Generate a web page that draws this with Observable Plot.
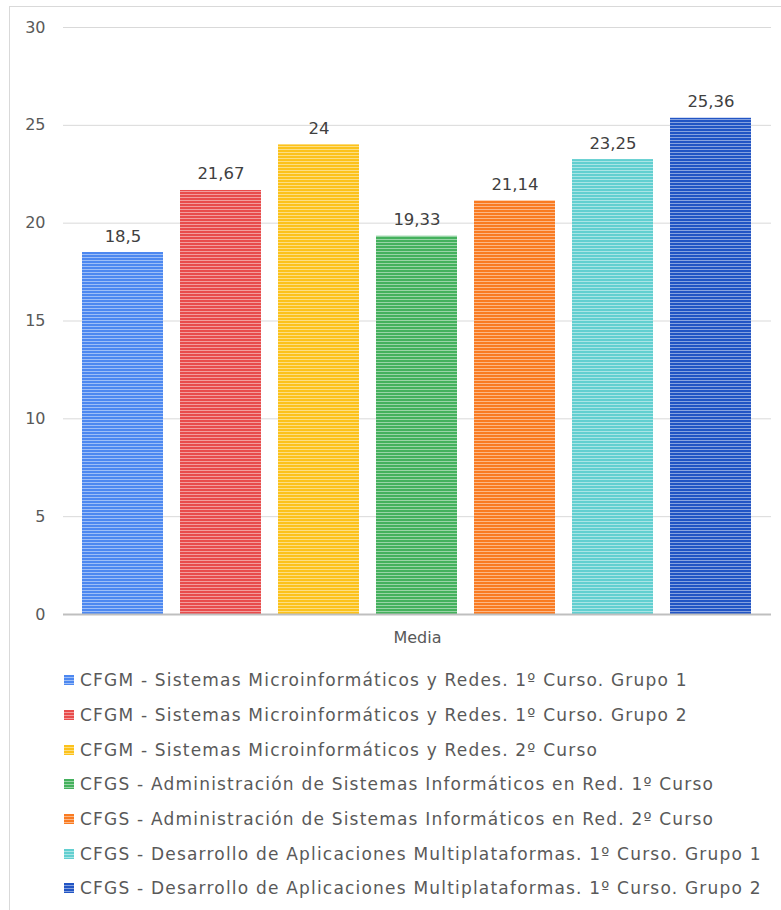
<!DOCTYPE html>
<html><head><meta charset="utf-8">
<script src="https://cdn.jsdelivr.net/npm/d3@7"></script>
<script src="https://cdn.jsdelivr.net/npm/@observablehq/plot@0.6"></script>
<style>
body{margin:0;background:#fff;font-family:"DejaVu Sans",sans-serif;}
#wrap{position:relative;width:781px;height:910px;overflow:hidden;}
#frame{position:absolute;left:9px;top:6px;width:800px;height:940px;border:1px solid #d9d9d9;box-sizing:border-box;}
#chart{position:absolute;left:0;top:0;}
#legend{position:absolute;left:64px;top:663px;}
.item{display:flex;align-items:center;height:34.7px;font-size:17px;letter-spacing:1.2px;color:#595959;white-space:nowrap;}
.sw{width:10px;height:10px;margin-right:6px;flex:none;}
</style></head>
<body><div id="wrap"><div id="frame"></div><div id="chart"></div><div id="legend"></div></div>
<script>
const series = [
  "CFGM - Sistemas Microinformáticos y Redes. 1º Curso. Grupo 1",
  "CFGM - Sistemas Microinformáticos y Redes. 1º Curso. Grupo 2",
  "CFGM - Sistemas Microinformáticos y Redes. 2º Curso",
  "CFGS - Administración de Sistemas Informáticos en Red. 1º Curso",
  "CFGS - Administración de Sistemas Informáticos en Red. 2º Curso",
  "CFGS - Desarrollo de Aplicaciones Multiplataformas. 1º Curso. Grupo 1",
  "CFGS - Desarrollo de Aplicaciones Multiplataformas. 1º Curso. Grupo 2"
];
const values = [18.5, 21.67, 24, 19.33, 21.14, 23.25, 25.36];
const colors = ["#4d88f0", "#e84c4c", "#fcc21b", "#44b15d", "#f97b22", "#62cfd0", "#2255c4"];
const category = "Media";
const yTicks = [0, 5, 10, 15, 20, 25, 30];

const data = series.map((s, i) => ({series: s, value: values[i], cat: category, color: colors[i]}));
const fmt = v => String(v).replace(".", ",");

const plot = Plot.plot({
  width: 781, height: 660,
  marginLeft: 63, marginRight: 10, marginTop: 27, marginBottom: 46,
  style: {fontFamily: "DejaVu Sans, sans-serif", fontSize: "16px", color: "#595959", background: "transparent"},
  fx: {domain: [category], padding: 0, label: null, axis: "bottom", tickSize: 0, tickPadding: 17},
  x: {domain: series, paddingInner: 0.17, paddingOuter: 0.17, axis: null},
  y: {domain: [0, 30], ticks: yTicks, tickSize: 0, tickPadding: 18, label: null, grid: false},
  marks: [
    Plot.ruleY(yTicks.filter(t => t > 0), {stroke: "#d9d9d9", strokeWidth: 1, strokeOpacity: 1}),
    Plot.barY(data, {fx: "cat", x: "series", y: "value", fill: "color"}),
    Plot.ruleY([0], {stroke: "#bfbfbf", strokeWidth: 2}),
    Plot.text(data, {fx: "cat", x: "series", y: "value", text: d => fmt(d.value), dy: -11, lineAnchor: "bottom", fill: "#404040", fontSize: 16.5})
  ]
});
document.getElementById("chart").appendChild(plot);

// stripe patterns
const svg = d3.select(plot);
const defs = svg.insert("defs", ":first-child");
colors.forEach((c, i) => {
  const p = defs.append("pattern").attr("id", "pat" + i).attr("patternUnits", "userSpaceOnUse").attr("width", 6).attr("height", 3);
  p.append("rect").attr("width", 6).attr("height", 3).attr("fill", c);
  p.append("rect").attr("y", 2).attr("width", 6).attr("height", 1).attr("fill", "#fff").attr("fill-opacity", 0.45);
});
svg.selectAll("g[aria-label='bar'] rect").attr("fill", (d, i) => `url(#pat${i})`);

// legend
const leg = d3.select("#legend");
series.forEach((s, i) => {
  const it = leg.append("div").attr("class", "item");
  it.append("div").attr("class", "sw")
    .style("background", `repeating-linear-gradient(to bottom, ${colors[i]} 0px, ${colors[i]} 2px, rgba(255,255,255,0.45) 2px, rgba(255,255,255,0.45) 3px), ${colors[i]}`);
  it.append("span").text(s);
});
</script></body></html>
